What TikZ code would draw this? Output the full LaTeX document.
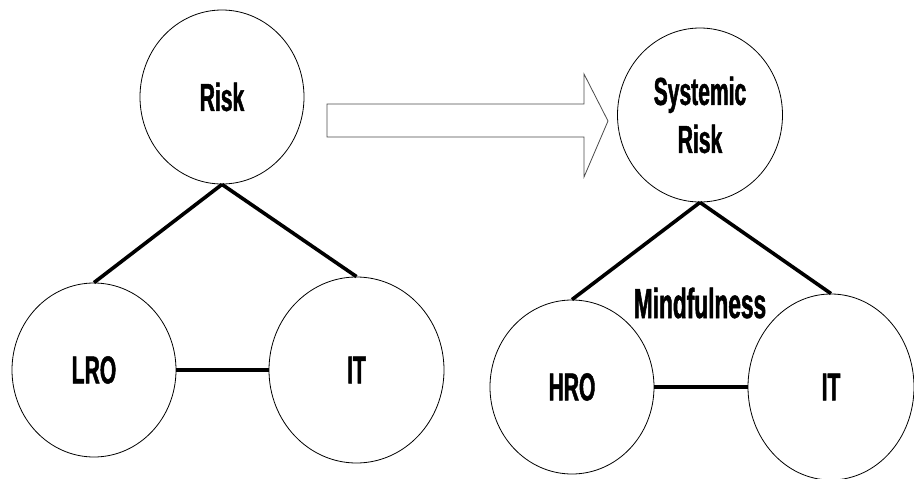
\documentclass[tikz,border=0pt]{standalone}
\usepackage{fontspec}
\newfontfamily\lblfont{Liberation Sans}[FakeStretch=0.54,FakeBold=1.2]
\usetikzlibrary{shapes.geometric}
\begin{document}
\begin{tikzpicture}[x=1pt,y=-1pt,
  bub/.style={ellipse,draw=black,line width=0.8pt,inner sep=0pt,font=\lblfont\bfseries\fontsize{39}{48}\selectfont,align=center},
  link/.style={line width=3.6pt},
  bigarrow/.style={draw=black!70,line width=0.8pt,fill=white}]
\useasboundingbox (0,0) rectangle (914,479);
\node[bub,minimum width=164pt,minimum height=174pt] (risk) at (222,97) {Risk};
\node[bub,minimum width=164pt,minimum height=174pt] (lro) at (94,370) {LRO};
\node[bub,minimum width=175pt,minimum height=186pt] (itl) at (356.5,370) {IT};
\node[bub,minimum width=165pt,minimum height=174pt] (sr) at (700,115) {Systemic\\Risk};
\node[bub,minimum width=164pt,minimum height=174pt] (hro) at (572,387) {HRO};
\node[bub,minimum width=166pt,minimum height=186pt] (itr) at (831,387) {IT};
\node[font=\lblfont\bfseries\fontsize{42}{48}\selectfont] (mind) at (700,303) {Mindfulness};
\draw[link] (risk.south) -- (lro.north);
\draw[link] (risk.south) -- (itl.north);
\draw[link] (lro.east) -- (itl.west);
\draw[link] (sr.south) -- (hro.north);
\draw[link] (sr.south) -- (itr.north);
\draw[link] (hro.east) -- (itr.west);
\draw[bigarrow] (327,104) -- (584,104) -- (584,74) -- (608,121) -- (584,177) -- (584,137) -- (327,137) -- cycle;
\end{tikzpicture}
\end{document}
